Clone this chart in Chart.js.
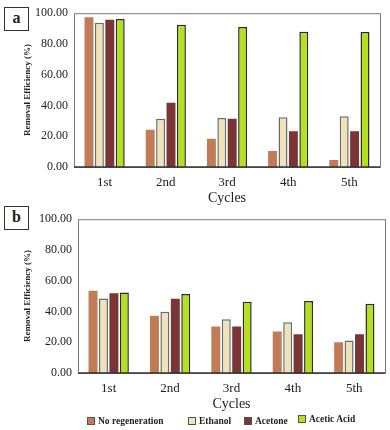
<!DOCTYPE html>
<html>
<head>
<meta charset="utf-8">
<script src="https://cdn.jsdelivr.net/npm/chart.js@4"></script>
<style>
  body { margin: 0; background: #fff; }
  #wrap { position: relative; width: 390px; height: 430px; overflow: hidden; font-family: "Liberation Serif", serif; color: #222; }
  .panel { position: absolute; left: 0; width: 390px; height: 207px; }
  .tag { position: absolute; left: 4px; width: 23px; height: 22px; border: 1.5px solid #333; font-weight: bold; font-size: 16px; text-align: center; line-height: 20px; background: #fff; }
  #legend { position: absolute; top: 415px; left: 0; width: 390px; height: 14px; font-weight: bold; font-size: 9.5px; }
  .item { position: absolute; top: 0; white-space: nowrap; }
  .box { display: inline-block; width: 6px; height: 6px; margin-right: 3px; vertical-align: -0.5px; border: 1px solid #555; }
</style>
</head>
<body>
<div id="wrap">
  <div class="panel" style="top:0"><canvas id="chartA"></canvas></div>
  <div class="panel" style="top:206px"><canvas id="chartB"></canvas></div>
  <div class="tag" style="top:7px">a</div>
  <div class="tag" style="top:206px">b</div>
  <div id="legend"></div>
</div>
<script>
const cycles = ["1st", "2nd", "3rd", "4th", "5th"];
const seriesNames = ["No regeneration", "Ethanol", "Acetone", "Acetic Acid"];

// panel a
const noRegenA = [97.3, 24.3, 18.3, 10.4, 4.6];
const ethanolA = [93.8, 31.4, 31.8, 32.4, 33.0];
const acetoneA = [95.8, 41.8, 31.4, 23.3, 23.3];
const aceticA = [96.3, 92.5, 91.0, 87.9, 87.7];

// panel b
const noRegenB = [53.4, 37.2, 30.2, 27.0, 20.0];
const ethanolB = [48.4, 39.8, 35.0, 33.0, 21.2];
const acetoneB = [51.8, 48.2, 30.2, 25.2, 25.2];
const aceticB = [52.4, 51.4, 46.4, 46.8, 45.0];

const yTicks = [0, 20, 40, 60, 80, 100];

const fills = ["#c27b57", "#f1e3b7", "#7b3535", "#b4e11e"];
const borders = ["#c27b57", "#5f6d74", "#7b3535", "#2b2b2b"];
const borderW = [0, 1.5, 0, 1.5];

const serif = "'Liberation Serif', 'Times New Roman', serif";

const frame = {
  id: "frame",
  afterDraw(chart) {
    const a = chart.chartArea;
    const c = chart.ctx;
    c.save();
    c.strokeStyle = "#7a7a7a";
    c.lineWidth = 1;
    c.strokeRect(a.left + 0.5, a.top + 0.5, a.right - a.left, a.bottom - a.top);
    c.strokeStyle = "#333";
    c.lineWidth = 1.5;
    c.beginPath();
    c.moveTo(a.left, a.bottom);
    c.lineTo(a.right, a.bottom);
    c.stroke();
    c.restore();
  }
};

function makeChart(id, values, leftW, top, right) {
  const ctx = document.getElementById(id).getContext("2d");
  return new Chart(ctx, {
    type: "bar",
    data: {
      labels: cycles,
      datasets: values.map((v, i) => ({
        label: seriesNames[i],
        data: v,
        backgroundColor: fills[i],
        borderColor: borders[i],
        borderWidth: borderW[i],
        categoryPercentage: 0.68,
        barPercentage: 0.86,
      })),
    },
    options: {
      responsive: true,
      maintainAspectRatio: false,
      animation: false,
      layout: { padding: { left: 0, top: top, right: right, bottom: 0 } },
      plugins: {
        legend: { display: false },
        tooltip: { enabled: false },
      },
      scales: {
        x: {
          grid: { display: false, drawTicks: false },
          border: { display: false },
          ticks: {
            padding: 8,
            color: "#222",
            autoSkip: false,
            minRotation: 0,
            maxRotation: 0,
            font: { family: serif, size: 13 },
          },
          title: { display: true, text: "Cycles", color: "#222", padding: { top: 0, bottom: 0 }, font: { family: serif, size: 14 } },
          afterFit(scale) { scale.height = 40; },
        },
        y: {
          min: 0,
          max: 100,
          afterBuildTicks(scale) { scale.ticks = yTicks.map(v => ({ value: v })); },
          grid: { display: false, drawTicks: false },
          border: { display: false },
          ticks: {
            padding: 6,
            color: "#222",
            font: { family: serif, size: 12 },
            callback: v => v.toFixed(2),
          },
          title: {
            display: true,
            text: "Removal Efficiency (%)",
            color: "#222",
            padding: { top: 22, bottom: 0 },
            font: { family: serif, size: 9, weight: "bold" },
          },
          afterFit(scale) { scale.width = leftW; },
        },
      },
    },
    plugins: [frame],
  });
}

makeChart("chartA", [noRegenA, ethanolA, acetoneA, aceticA], 74, 7, 10);
makeChart("chartB", [noRegenB, ethanolB, acetoneB, aceticB], 78, 8, 5);

// legend below panel b
const legendX = [87, 188, 244, 298];
const legendDy = [1, 1, 1, -1];
const legend = document.getElementById("legend");
seriesNames.forEach((name, i) => {
  const item = document.createElement("div");
  item.className = "item";
  item.style.left = legendX[i] + "px";
  item.style.top = legendDy[i] + "px";
  const box = document.createElement("span");
  box.className = "box";
  box.style.background = fills[i];
  item.appendChild(box);
  item.appendChild(document.createTextNode(name));
  legend.appendChild(item);
});
</script>
</body>
</html>
